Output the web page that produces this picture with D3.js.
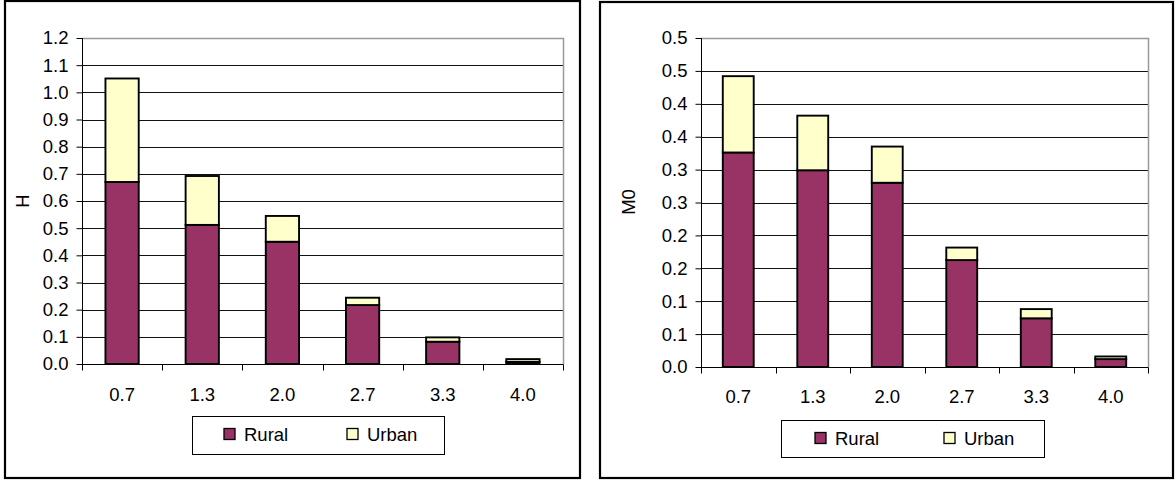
<!DOCTYPE html>
<html>
<head>
<meta charset="utf-8">
<script src="https://cdn.jsdelivr.net/npm/d3@7"></script>
<style>
  html, body { margin: 0; padding: 0; background: #fff; }
  svg { display: block; font-family: "Liberation Sans", Arial, sans-serif; }
</style>
</head>
<body>
<svg id="chart" width="1176" height="481"></svg>
<script>
// Poverty threshold categories (k)
const categories = ["0.7", "1.3", "2.0", "2.7", "3.3", "4.0"];

// Headcount ratio H, split by area
const hRural = [0.670, 0.512, 0.450, 0.217, 0.082, 0.008];
const hUrban = [0.381, 0.180, 0.095, 0.027, 0.016, 0.010];

// Adjusted headcount M0, split by area
const m0Rural = [0.326, 0.299, 0.280, 0.1625, 0.074, 0.012];
const m0Urban = [0.116, 0.083, 0.055, 0.019, 0.014, 0.004];

// Axis ticks and their printed labels
const hTicks = [0, 0.1, 0.2, 0.3, 0.4, 0.5, 0.6, 0.7, 0.8, 0.9, 1.0, 1.1, 1.2];
const hTickLabels = ["0.0", "0.1", "0.2", "0.3", "0.4", "0.5", "0.6", "0.7", "0.8", "0.9", "1.0", "1.1", "1.2"];
const m0Ticks = [0, 0.05, 0.1, 0.15, 0.2, 0.25, 0.3, 0.35, 0.4, 0.45, 0.5];
const m0TickLabels = ["0.0", "0.1", "0.1", "0.2", "0.2", "0.3", "0.3", "0.4", "0.4", "0.5", "0.5"];

const seriesNames = ["Rural", "Urban"];
const colors = { Rural: "#993366", Urban: "#FFFFCC" };

const svg = d3.select("#chart");
const FONT = 18.5;

function panel(cfg) {
  const g = svg.append("g");

  // outer chart frame
  g.append("rect")
    .attr("x", cfg.frame[0]).attr("y", cfg.frame[1])
    .attr("width", cfg.frame[2] - cfg.frame[0]).attr("height", cfg.frame[3] - cfg.frame[1])
    .attr("fill", "#fff").attr("stroke", "#000").attr("stroke-width", 2.2);

  const [px0, py0, px1, py1] = cfg.plot;
  const x = d3.scaleBand().domain(categories).range([px0, px1])
    .paddingInner(0.585).paddingOuter(0.2925);
  const y = d3.scaleLinear().domain([0, cfg.max]).range([py1, py0]);

  // gridlines
  g.append("g").selectAll("line")
    .data(cfg.ticks.filter(t => t > 0 && t < cfg.max))
    .join("line")
    .attr("x1", px0).attr("x2", px1)
    .attr("y1", d => Math.round(y(d)) + 0.5).attr("y2", d => Math.round(y(d)) + 0.5)
    .attr("stroke", "#111").attr("stroke-width", 1);

  // plot area border (top / right)
  g.append("path")
    .attr("d", `M${px0},${py0 + 0.5}H${px1 + 0.5}V${py1}`)
    .attr("fill", "none").attr("stroke", "#999").attr("stroke-width", 1.5);

  // stacked bars
  const stacked = categories.map((c, i) => ({ c, Rural: cfg.rural[i], Urban: cfg.urban[i] }));
  const stack = d3.stack().keys(seriesNames)(stacked);
  g.append("g").selectAll("g")
    .data(stack).join("g")
    .attr("fill", d => colors[d.key])
    .selectAll("rect")
    .data(d => d).join("rect")
    .attr("x", d => x(d.data.c))
    .attr("width", x.bandwidth())
    .attr("y", d => y(d[1]))
    .attr("height", d => y(d[0]) - y(d[1]))
    .attr("stroke", "#000").attr("stroke-width", 1.9);

  // y axis
  const yAxis = d3.axisLeft(y).tickValues(cfg.ticks)
    .tickFormat((d, i) => cfg.tickLabels[i]).tickSize(6).tickPadding(8);
  const ya = g.append("g").attr("transform", `translate(${px0 + 0.5},0)`).call(yAxis);
  ya.select(".domain").attr("stroke", "#000").attr("d", `M0,${py0}V${py1}`);
  ya.selectAll(".tick line").attr("stroke", "#000");
  ya.selectAll("text").attr("font-size", FONT).attr("fill", "#000")
    .attr("font-family", "Liberation Sans, Arial, sans-serif");

  // x axis
  const xa = g.append("g").attr("transform", `translate(0,${py1 + 0.5})`);
  xa.append("line").attr("x1", px0).attr("x2", px1 + 0.5).attr("stroke", "#000");
  const bounds = d3.range(categories.length + 1).map(i => px0 + i * x.step());
  xa.selectAll("line.tk").data(bounds).join("line").attr("class", "tk")
    .attr("x1", d => Math.round(d) + 0.5).attr("x2", d => Math.round(d) + 0.5)
    .attr("y1", 0).attr("y2", 6).attr("stroke", "#000");
  xa.selectAll("text").data(categories).join("text")
    .attr("x", d => x(d) + x.bandwidth() / 2)
    .attr("y", cfg.xLabelY - py1)
    .attr("text-anchor", "middle")
    .attr("font-size", FONT).attr("fill", "#000")
    .text(d => d);

  // y axis title
  g.append("text")
    .attr("transform", `translate(${cfg.titlePos[0]},${cfg.titlePos[1]}) rotate(-90)`)
    .attr("text-anchor", "middle").attr("dominant-baseline", "central")
    .attr("font-size", FONT).attr("fill", "#000")
    .text(cfg.title);

  // legend
  const L = cfg.legend;
  g.append("rect")
    .attr("x", L.box[0] + 0.5).attr("y", L.box[1] + 0.5)
    .attr("width", L.box[2] - L.box[0]).attr("height", L.box[3] - L.box[1])
    .attr("fill", "#fff").attr("stroke", "#000").attr("stroke-width", 1);
  const items = g.append("g").selectAll("g").data(seriesNames).join("g")
    .attr("transform", (d, i) => `translate(${L.itemX[i]},${L.swatchY})`);
  items.append("rect")
    .attr("width", 11).attr("height", 11)
    .attr("fill", d => colors[d]).attr("stroke", "#000").attr("stroke-width", 1.3);
  items.append("text")
    .attr("x", 20).attr("y", 5.5).attr("dominant-baseline", "central")
    .attr("font-size", FONT).attr("fill", "#000")
    .text(d => d);
}

panel({
  frame: [5, 1, 580, 478],
  plot: [82, 38, 563, 364],
  max: 1.2,
  ticks: hTicks, tickLabels: hTickLabels,
  rural: hRural, urban: hUrban,
  xLabelY: 400,
  title: "H", titlePos: [22, 201],
  legend: { box: [192, 416, 444, 454], itemX: [224, 347], swatchY: 428.5 }
});

panel({
  frame: [600, 2, 1173, 478],
  plot: [701, 38, 1148, 367],
  max: 0.5,
  ticks: m0Ticks, tickLabels: m0TickLabels,
  rural: m0Rural, urban: m0Urban,
  xLabelY: 402,
  title: "M0", titlePos: [628, 202],
  legend: { box: [781, 420, 1044, 457], itemX: [815, 944], swatchY: 432.5 }
});
</script>
</body>
</html>
